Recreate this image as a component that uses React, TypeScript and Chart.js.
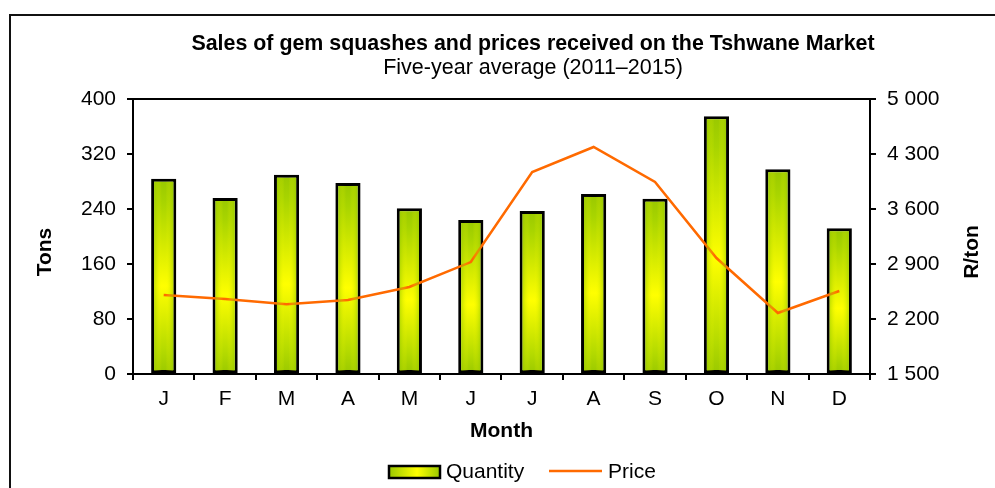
import React, { useEffect, useRef } from "react";
import { Chart, registerables } from "chart.js";

Chart.register(...registerables);

const MONTHS = ["J", "F", "M", "A", "M", "J", "J", "A", "S", "O", "N", "D"];
const QUANTITY = [284, 256, 290, 278, 241, 224, 237, 262, 255, 375, 298, 212];
const PRICE = [2505, 2455, 2387, 2442, 2607, 2925, 4071, 4389, 3944, 2976, 2276, 2556];
const TONS_TICKS = ["0", "80", "160", "240", "320", "400"];
const PRICE_TICKS = ["1 500", "2 200", "2 900", "3 600", "4 300", "5 000"];

const TITLE = "Sales of gem squashes and prices received on the Tshwane Market";
const SUBTITLE = "Five-year average (2011–2015)";
const X_TITLE = "Month";
const Y_TITLE = "Tons";
const Y1_TITLE = "R/ton";
const LEGEND_QTY = "Quantity";
const LEGEND_PRICE = "Price";

const FONT = "'Liberation Sans', Arial, sans-serif";
const GREEN = "#99C800";
const YELLOW = "#FFFF00";
const ORANGE = "#FF6A00";

const W = 995;
const H = 488;
const AREA = { left: 133, right: 870, top: 99, bottom: 374 };

function barFill(context: any) {
  const chart = context.chart;
  const ctx = chart.ctx;
  const yScale = chart.scales.y;
  if (!yScale || context.raw == null) return GREEN;
  const top = yScale.getPixelForValue(context.raw);
  const base = yScale.getPixelForValue(0);
  if (!isFinite(top) || !isFinite(base) || top === base) return GREEN;
  const g = ctx.createLinearGradient(0, top, 0, base);
  g.addColorStop(0, GREEN);
  g.addColorStop(0.12, "#A8D400");
  g.addColorStop(0.55, YELLOW);
  g.addColorStop(0.88, "#B4DA00");
  g.addColorStop(1, GREEN);
  return g;
}

const decorPlugin = {
  id: "decor",
  beforeDraw(chart: any) {
    const ctx = chart.ctx;
    ctx.save();
    ctx.fillStyle = "#ffffff";
    ctx.fillRect(0, 0, chart.width, chart.height);
    ctx.strokeStyle = "#111";
    ctx.lineWidth = 2;
    ctx.strokeRect(10, 15, 1200, 800);
    ctx.restore();
  },
  afterDatasetsDraw(chart: any) {
    const ctx = chart.ctx;
    const meta = chart.getDatasetMeta(1);
    ctx.save();
    meta.data.forEach((bar: any) => {
      const { x, y, base, width } = bar.getProps(["x", "y", "base", "width"], true);
      const l = x - width / 2 + 3;
      const r = x + width / 2 - 3;
      const g = ctx.createLinearGradient(l, 0, r, 0);
      g.addColorStop(0, "rgba(150,200,0,0.55)");
      g.addColorStop(0.4, "rgba(255,255,0,0)");
      g.addColorStop(0.6, "rgba(255,255,0,0)");
      g.addColorStop(1, "rgba(150,200,0,0.55)");
      ctx.fillStyle = g;
      ctx.fillRect(l, y + 3, r - l, base - y - 5);
    });
    ctx.restore();
  },
  afterDraw(chart: any) {
    const ctx = chart.ctx;
    const a = chart.chartArea;
    ctx.save();
    ctx.strokeStyle = "#000";
    ctx.lineWidth = 2;
    ctx.strokeRect(a.left, a.top, a.right - a.left, a.bottom - a.top);

    ctx.fillStyle = "#000";
    ctx.textAlign = "center";
    ctx.textBaseline = "middle";
    ctx.font = `bold 21.4px ${FONT}`;
    ctx.fillText(TITLE, 533, 44);
    ctx.font = `21.5px ${FONT}`;
    ctx.fillText(SUBTITLE, 533, 68);

    ctx.font = `bold 21px ${FONT}`;
    ctx.fillText(X_TITLE, (a.left + a.right) / 2, 431);

    ctx.save();
    ctx.translate(45, 252);
    ctx.rotate(-Math.PI / 2);
    ctx.fillText(Y_TITLE, 0, 0);
    ctx.restore();

    ctx.save();
    ctx.translate(972, 252);
    ctx.rotate(-Math.PI / 2);
    ctx.fillText(Y1_TITLE, 0, 0);
    ctx.restore();

    const bx = 389, by = 466, bw = 51, bh = 12;
    const lg = ctx.createLinearGradient(bx, 0, bx + bw, 0);
    lg.addColorStop(0, GREEN);
    lg.addColorStop(0.55, YELLOW);
    lg.addColorStop(1, GREEN);
    ctx.fillStyle = lg;
    ctx.fillRect(bx, by, bw, bh);
    ctx.strokeStyle = "#000";
    ctx.lineWidth = 2.5;
    ctx.strokeRect(bx, by, bw, bh);
    ctx.fillStyle = "#000";
    ctx.textAlign = "left";
    ctx.font = `21px ${FONT}`;
    ctx.fillText(LEGEND_QTY, 446, 472);
    ctx.strokeStyle = ORANGE;
    ctx.lineWidth = 2.5;
    ctx.beginPath();
    ctx.moveTo(549, 471);
    ctx.lineTo(602, 471);
    ctx.stroke();
    ctx.fillText(LEGEND_PRICE, 608, 472);
    ctx.restore();
  },
};

export default function App() {
  const ref = useRef<HTMLCanvasElement | null>(null);

  useEffect(() => {
    if (!ref.current) return;
    const chart = new Chart(ref.current, {
      type: "bar",
      data: {
        labels: MONTHS,
        datasets: [
          {
            type: "line",
            label: LEGEND_PRICE,
            data: PRICE,
            yAxisID: "y1",
            borderColor: ORANGE,
            borderWidth: 2.5,
            pointRadius: 0,
            tension: 0,
            order: 0,
          } as any,
          {
            type: "bar",
            label: LEGEND_QTY,
            data: QUANTITY,
            yAxisID: "y",
            backgroundColor: barFill,
            borderColor: "#000",
            borderWidth: 3,
            borderSkipped: false,
            barPercentage: 0.41,
            categoryPercentage: 1,
            order: 1,
          } as any,
        ],
      },
      options: {
        responsive: false,
        animation: false,
        devicePixelRatio: 1,
        layout: { padding: { top: AREA.top, bottom: 0, left: 0, right: 0 } },
        plugins: {
          legend: { display: false },
          title: { display: false },
          tooltip: { enabled: false },
        },
        scales: {
          x: {
            offset: true,
            border: { display: false },
            grid: {
              offset: true,
              drawOnChartArea: false,
              drawTicks: true,
              tickLength: 6,
              color: "#000",
              lineWidth: 2,
            },
            ticks: {
              color: "#000",
              font: { family: FONT, size: 21 },
              padding: 7,
              maxRotation: 0,
            },
            afterFit: (s: any) => {
              s.height = H - AREA.bottom;
            },
          },
          y: {
            position: "left",
            min: 0,
            max: 400,
            border: { display: false },
            grid: {
              drawOnChartArea: false,
              drawTicks: true,
              tickLength: 6,
              color: "#000",
              lineWidth: 2,
            },
            ticks: {
              stepSize: 80,
              color: "#000",
              font: { family: FONT, size: 21 },
              padding: 11,
              callback: (_v: any, i: number) => TONS_TICKS[i],
            },
            afterFit: (s: any) => {
              s.width = AREA.left;
            },
          },
          y1: {
            position: "right",
            min: 1500,
            max: 5000,
            border: { display: false },
            grid: {
              drawOnChartArea: false,
              drawTicks: true,
              tickLength: 6,
              color: "#000",
              lineWidth: 2,
            },
            ticks: {
              stepSize: 700,
              color: "#000",
              font: { family: FONT, size: 21 },
              padding: 11,
              callback: (_v: any, i: number) => PRICE_TICKS[i],
            },
            afterFit: (s: any) => {
              s.width = W - AREA.right;
            },
          },
        },
      },
      plugins: [decorPlugin],
    });
    return () => chart.destroy();
  }, []);

  return (
    <div style={{ position: "absolute", left: 0, top: 0, width: W, height: H }}>
      <canvas ref={ref} width={W} height={H} style={{ display: "block", width: W, height: H }} />
    </div>
  );
}
